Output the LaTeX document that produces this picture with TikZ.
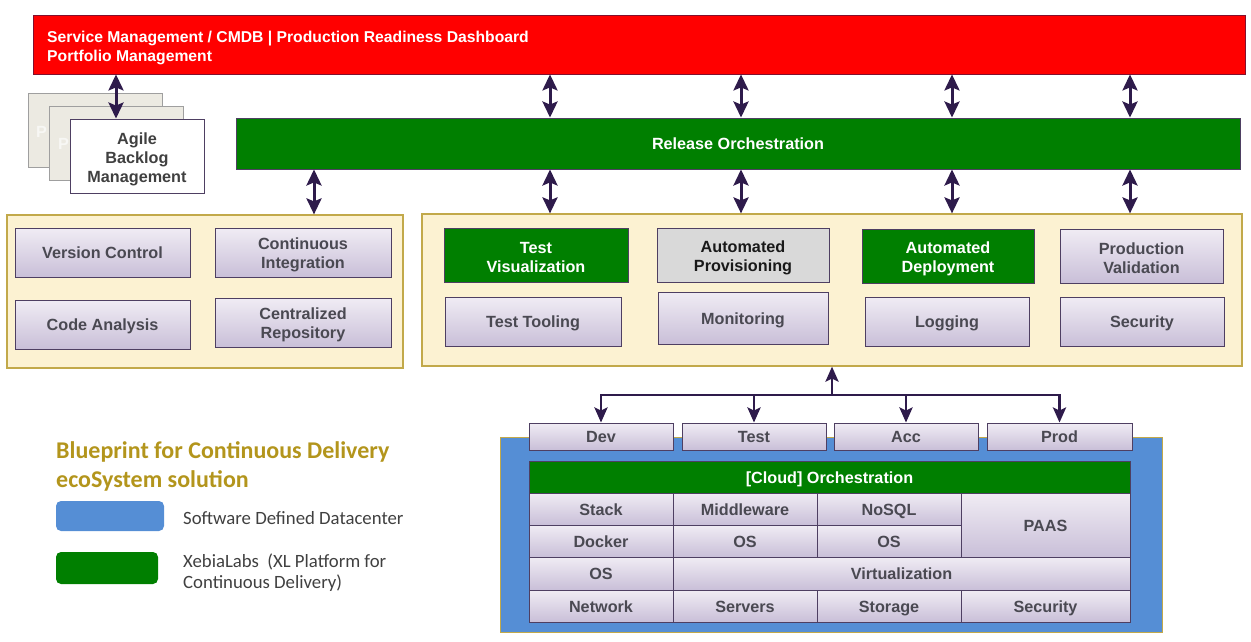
\documentclass[tikz,border=0pt]{standalone}
\usepackage{fontspec}
\setmainfont{Liberation Sans}
\newfontfamily\legendfont{Carlito}
\usetikzlibrary{arrows.meta}

\definecolor{redbar}{HTML}{FF0000}
\definecolor{xlgreen}{HTML}{007F00}
\definecolor{cream}{HTML}{FCF2D2}
\definecolor{goldline}{HTML}{C2A94A}
\definecolor{sddblue}{HTML}{558ED5}
\definecolor{lavtop}{HTML}{F0ECF4}
\definecolor{lavbot}{HTML}{C9BFD8}
\definecolor{lavline}{HTML}{4E3F62}
\definecolor{lavtext}{HTML}{4A4952}
\definecolor{arrowc}{HTML}{2E1B4B}
\definecolor{cardfill}{HTML}{ECEAE2}
\definecolor{provgray}{HTML}{D9D9D9}
\definecolor{legendgold}{HTML}{B3951C}
\definecolor{legendtext}{HTML}{404040}

% taller first line so stacked labels sit centred in their boxes
\newcommand{\firstline}{\rule{0pt}{17pt}}

\tikzset{
  boxfont/.style={font=\bfseries\fontsize{16.2}{19}\selectfont},
  one/.style={text height=12.6pt, text depth=0pt},
  lav/.style={boxfont, draw=lavline, line width=0.9pt, top color=lavtop,
    bottom color=lavbot, text=lavtext, align=center, inner sep=0pt},
  greenbox/.style={boxfont, draw=lavline, line width=0.9pt, fill=xlgreen,
    text=white, align=center, inner sep=0pt},
  container/.style={draw=goldline, line width=1.2pt, fill=cream, inner sep=0pt},
  card/.style={draw=gray!75, line width=0.8pt, fill=cardfill, inner sep=0pt,
    minimum width=134pt, minimum height=74pt},
  dbl/.style={draw=arrowc, line width=3pt,
    {Stealth[width=15pt,length=16pt,inset=3pt]}-{Stealth[width=15pt,length=16pt,inset=3pt]}},
  uni/.style={draw=arrowc, line width=2.8pt, -{Stealth[width=13pt,length=15pt,inset=3pt]}},
  sz/.style 2 args={minimum width=#1pt, minimum height=#2pt},
}

\begin{document}
\begin{tikzpicture}[x=1pt,y=-1pt]
\useasboundingbox (0,0) rectangle (1251,642);

% ---- top management bar ----
\node[draw=arrowc!60!redbar, line width=0.8pt, fill=redbar, sz={1212}{59}, inner sep=0pt] (svc) at (639,44.5) {};
\node[anchor=west, inner sep=0pt, align=left, text=white,
  font=\bfseries\fontsize{15.7}{19}\selectfont] (svctext) at (47,47.5)
  {Service Management / CMDB | Production Readiness Dashboard\\Portfolio Management};

% ---- stacked backlog cards ----
\node[card] (card1) at (95,130) {};
\node[anchor=west, inner sep=0pt, text=white!60!cardfill, boxfont] (card1p) at (36,132) {P};
\node[card] (card2) at (116,143.5) {};
\node[anchor=west, inner sep=0pt, text=white!60!cardfill, boxfont] (card2p) at (58,144) {P};
\node[draw=lavline, line width=0.9pt, fill=white, sz={134}{74}, inner sep=0pt,
  align=center, text=legendtext, boxfont] (card3) at (137,156)
  {\rule{0pt}{19pt}Agile\\Backlog\\Management};

% ---- release orchestration ----
\node[greenbox, one, sz={1004}{51}] (rel) at (738,143.5) {Release Orchestration};

% ---- build side ----
\node[container, sz={396}{153}] (leftc) at (205,291.5) {};
\node[lav, one, sz={175}{49}] (vc) at (102.5,252.5) {Version Control};
\node[lav, sz={176}{49}] (ci) at (303,252.5) {\firstline Continuous\\Integration};
\node[lav, one, sz={175}{49}] (ca) at (102.5,324.5) {Code Analysis};
\node[lav, sz={176}{49}] (cr) at (303,322.5) {\firstline Centralized\\Repository};

% ---- release side ----
\node[container, sz={820}{152}] (rightc) at (832,290) {};
\node[greenbox, sz={184}{54}] (tv) at (536,255) {\firstline Test\\Visualization};
\node[boxfont, draw=lavline, line width=0.9pt, fill=provgray, text=black!90,
  align=center, inner sep=0pt, sz={172}{54}] (ap) at (743,255) {\firstline Automated\\Provisioning};
\node[greenbox, sz={172}{54}] (ad) at (948,256) {\firstline Automated\\Deployment};
\node[lav, sz={163}{54}] (pv) at (1141.5,256) {\firstline Production\\Validation};
\node[lav, one, sz={176}{49}] (tt) at (533,321.5) {Test Tooling};
\node[lav, one, sz={170}{52}] (mon) at (743,318) {Monitoring};
\node[lav, one, sz={164}{49}] (lg) at (947,321.5) {Logging};
\node[lav, one, sz={164}{49}] (sec) at (1142,321.5) {Security};

% ---- software defined datacenter ----
\node[draw=goldline, line width=1pt, fill=sddblue, sz={662}{195}, inner sep=0pt] (sdd) at (831,534.5) {};
\node[lav, one, sz={144}{27}] (dev) at (601,436.5) {Dev};
\node[lav, one, sz={144}{27}] (test) at (754,436.5) {Test};
\node[lav, one, sz={144}{27}] (acc) at (906,436.5) {Acc};
\node[lav, one, sz={145}{27}] (prod) at (1059.5,436.5) {Prod};
\node[greenbox, one, sz={601}{32}] (cloud) at (829.5,477) {[Cloud] Orchestration};

\node[lav, one, sz={144}{32}] (stack) at (601,509) {Stack};
\node[lav, one, sz={144}{32}] (mw) at (745,509) {Middleware};
\node[lav, one, sz={144}{32}] (nosql) at (889,509) {NoSQL};
\node[lav, one, sz={169}{64}] (paas) at (1045.5,525) {PAAS};
\node[lav, one, sz={144}{32}] (docker) at (601,541) {Docker};
\node[lav, one, sz={144}{32}] (os1) at (745,541) {OS};
\node[lav, one, sz={144}{32}] (os2) at (889,541) {OS};
\node[lav, one, sz={144}{33}] (os3) at (601,573.5) {OS};
\node[lav, one, sz={457}{33}] (virt) at (901.5,573.5) {Virtualization};
\node[lav, one, sz={144}{32}] (net) at (601,606) {Network};
\node[lav, one, sz={144}{32}] (srv) at (745,606) {Servers};
\node[lav, one, sz={144}{32}] (sto) at (889,606) {Storage};
\node[lav, one, sz={169}{32}] (sdsec) at (1045.5,606) {Security};

% ---- connectors ----
\coordinate (xc) at (116,0);
\coordinate (x0) at (314,0);
\coordinate (x1) at (550,0);
\coordinate (x2) at (741,0);
\coordinate (x3) at (952,0);
\coordinate (x4) at (1130,0);
\draw[dbl] (svc.south -| xc) -- (card3.north -| xc);
\foreach \c in {x1,x2,x3,x4} {
  \draw[dbl] (svc.south -| \c) -- (rel.north -| \c);
  \draw[dbl] (rel.south -| \c) -- (rightc.north -| \c);
}
\draw[dbl] (rel.south -| x0) -- (leftc.north -| x0);

\coordinate (hub) at (832,395);
\draw[uni] (hub) -- (hub |- rightc.south);
\foreach \e in {dev,test,acc,prod} {
  \draw[uni] (hub) -| (\e.north);
}

% ---- legend ----
\node[anchor=west, inner sep=0pt, align=left, text=legendgold,
  font=\legendfont\bfseries\fontsize{24}{29}\selectfont] (bp) at (56,466)
  {Blueprint for Continuous Delivery\\ecoSystem solution};
\node[fill=sddblue, rounded corners=5pt, sz={108}{30}, inner sep=0pt] (lgblue) at (110,516) {};
\node[anchor=west, inner sep=0pt, text=legendtext,
  font=\legendfont\fontsize{18.75}{21.5}\selectfont] (lgbluet) at (183,518)
  {Software Defined Datacenter};
\node[fill=xlgreen, rounded corners=5pt, sz={102}{32}, inner sep=0pt] (lggreen) at (107,568) {};
\node[anchor=west, inner sep=0pt, align=left, text=legendtext,
  font=\legendfont\fontsize{18.75}{21.5}\selectfont] (lggreent) at (183,572.5)
  {XebiaLabs\ \ (XL Platform for\\Continuous Delivery)};
\end{tikzpicture}
\end{document}
